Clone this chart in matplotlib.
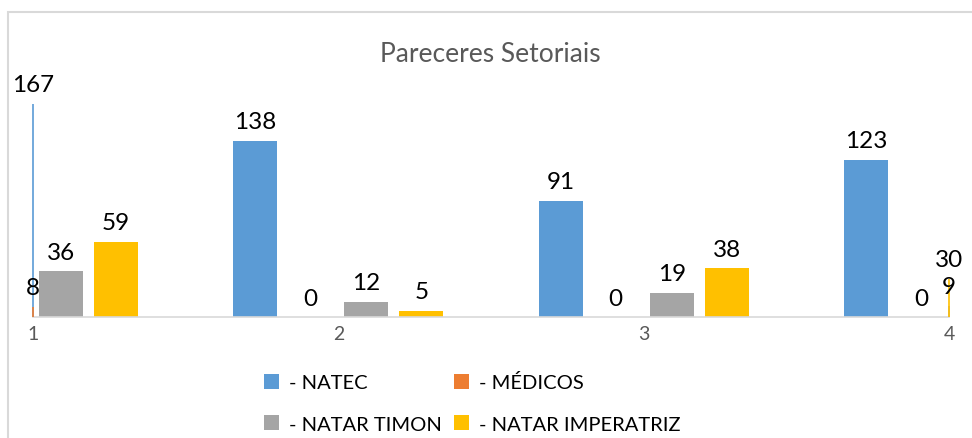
import numpy as np
import matplotlib.pyplot as plt
from matplotlib.patches import Patch, Rectangle

plt.rcParams['font.family'] = ['Lato', 'DejaVu Sans']

categories = [1, 2, 3, 4]
series = ['- NATEC', '- MÉDICOS', '- NATAR TIMON', '- NATAR IMPERATRIZ']
natec = [167, 138, 91, 123]
medicos = [8, 0, 0, 0]
natar_timon = [36, 12, 19, 9]
natar_imperatriz = [59, 5, 38, 30]
colors = ['#5B9BD5', '#ED7D31', '#A5A5A5', '#FFC000']

values = [natec, medicos, natar_timon, natar_imperatriz]
offsets = [-0.272, -0.092, 0.092, 0.272]
width = 0.144

fig = plt.figure(figsize=(9.72, 4.39), dpi=100)
ax = fig.add_axes([33 / 972, 1 - 318 / 439, 916 / 972, 230 / 439])
ax.set_xlim(1, 4)
ax.set_ylim(0, 180)

x = np.array(categories, dtype=float)
for vals, off, col in zip(values, offsets, colors):
    pos = x + off
    ax.bar(pos, vals, width=width, color=col, zorder=2)
    # bars falling outside the plot area show up as a thin line on its edge
    outside = (pos < 1) | (pos > 4)
    if outside.any():
        ax.vlines(np.clip(pos[outside], 1, 4), 0, np.array(vals)[outside],
                  color=col, lw=1.2, zorder=3, clip_on=False)
    for p, v in zip(np.clip(pos, 1, 4), vals):
        ax.annotate(str(v), (p, v), xytext=(0, 6), textcoords='offset points',
                    ha='center', va='bottom', fontsize=17.5, color='#000000',
                    annotation_clip=False, zorder=4)

for s in ['top', 'right', 'left']:
    ax.spines[s].set_visible(False)
ax.spines['bottom'].set_color('#D9D9D9')
ax.spines['bottom'].set_linewidth(1.2)
ax.set_yticks([])
ax.set_xticks(categories)
ax.set_xticklabels([str(c) for c in categories])
ax.tick_params(axis='x', length=0, pad=6, labelsize=14, labelcolor='#595959')

fig.text(490 / 972, 1 - 55 / 439, 'Pareceres Setoriais', ha='center', va='center',
         fontsize=19, color='#595959')

# legend fills column by column, so reorder to get NATEC / MÉDICOS on the first row
order = [0, 2, 1, 3]
handles = [Patch(facecolor=colors[i], edgecolor='none') for i in order]
labels = [series[i] for i in order]
fig.legend(handles, labels, ncol=2, loc='center', bbox_to_anchor=(472 / 972, 1 - 404 / 439),
           frameon=False, fontsize=14.5, handlelength=0.75, handleheight=0.75,
           handletextpad=0.5, columnspacing=0.6, labelspacing=1.2)

# chart border, partly outside the image like the original
fig.patches.append(Rectangle((8 / 972, -0.1), 1.2, 1 - 13 / 439 + 0.1,
                             transform=fig.transFigure, fill=False,
                             edgecolor='#D9D9D9', lw=1.5))

fig.savefig('out.png', dpi=100)
